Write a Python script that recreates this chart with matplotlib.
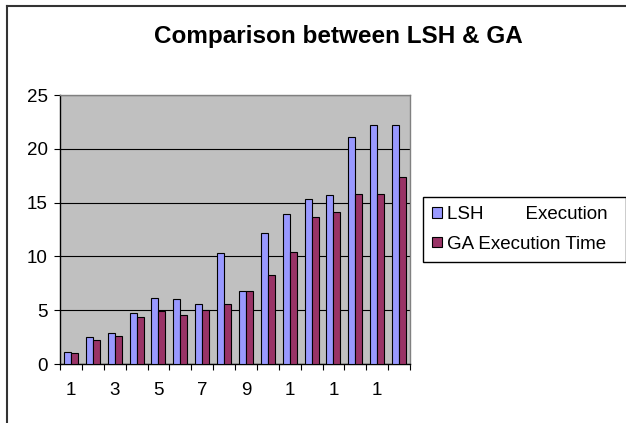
import numpy as np
import matplotlib
matplotlib.use("Agg")
import matplotlib.pyplot as plt
from matplotlib.lines import Line2D

plt.rcParams['font.family'] = ['Liberation Sans', 'DejaVu Sans']

categories = np.arange(1, 17)
lsh_exec = [1.1, 2.5, 2.9, 4.7, 6.1, 6.0, 5.6, 10.3, 6.8, 12.2, 13.9, 15.3, 15.7, 21.1, 22.2, 22.2]
ga_exec = [1.0, 2.2, 2.6, 4.4, 4.9, 4.6, 5.0, 5.6, 6.8, 8.3, 10.4, 13.7, 14.1, 15.8, 15.8, 17.4]
x_labels = ["1", "3", "5", "7", "9", "1", "1", "1"]
series_names = ["LSH        Execution", "GA Execution Time"]

W, H = 626, 423
fig = plt.figure(figsize=(W / 100, H / 100), dpi=100)
ax = fig.add_axes([60 / W, 1 - 364 / H, 350 / W, 269 / H])
ax.set_facecolor("#C0C0C0")

bw = 0.32
x = categories
ax.bar(x - bw / 2, lsh_exec, bw, color="#9999FF", edgecolor="black", linewidth=0.8,
       label=series_names[0], zorder=3)
ax.bar(x + bw / 2, ga_exec, bw, color="#993366", edgecolor="black", linewidth=0.8,
       label=series_names[1], zorder=3)

ax.set_xlim(0.5, 16.5)
ax.set_ylim(0, 25)
ax.set_yticks([0, 5, 10, 15, 20, 25])
ax.yaxis.grid(True, color="black", linewidth=0.8, zorder=1)
ax.tick_params(axis="y", direction="out", length=4, width=0.8, pad=5, labelsize=13.5)

# category labels at odd categories, tick marks at boundaries
ax.set_xticks(categories[::2])
ax.set_xticklabels(x_labels)
ax.tick_params(axis="x", which="major", length=0, pad=13, labelsize=13.5)
ax.set_xticks(np.arange(0.5, 17, 1), minor=True)
ax.tick_params(axis="x", which="minor", direction="out", length=4, width=0.8)

for s in ["left", "bottom"]:
    ax.spines[s].set_color("black")
    ax.spines[s].set_linewidth(1)
for s in ["top", "right"]:
    ax.spines[s].set_color("#808080")
    ax.spines[s].set_linewidth(1)

fig.text(338 / W, 1 - 36 / H, "Comparison between LSH & GA", ha="center", va="center",
         fontsize=17.5, fontweight="bold")

leg = fig.legend(loc="upper left", bbox_to_anchor=(423 / W, 1 - 264 / H, 203 / W, 67 / H),
                 mode="expand", borderaxespad=0,
                 fancybox=False, edgecolor="black", fontsize=13.5, handlelength=0.5,
                 handleheight=0.5, handletextpad=0.3, labelspacing=0.65, borderpad=0.5,
                 framealpha=1)
leg.get_frame().set_linewidth(1)

# outer chart frame (only top and left are inside the picture)
fig.add_artist(Line2D([7 / W, 7 / W], [0, 1 - 6 / H], color="#333333", linewidth=1.5))
fig.add_artist(Line2D([7 / W, 1], [1 - 6 / H, 1 - 6 / H], color="#333333", linewidth=1.5))

fig.savefig("out.png", dpi=100)
